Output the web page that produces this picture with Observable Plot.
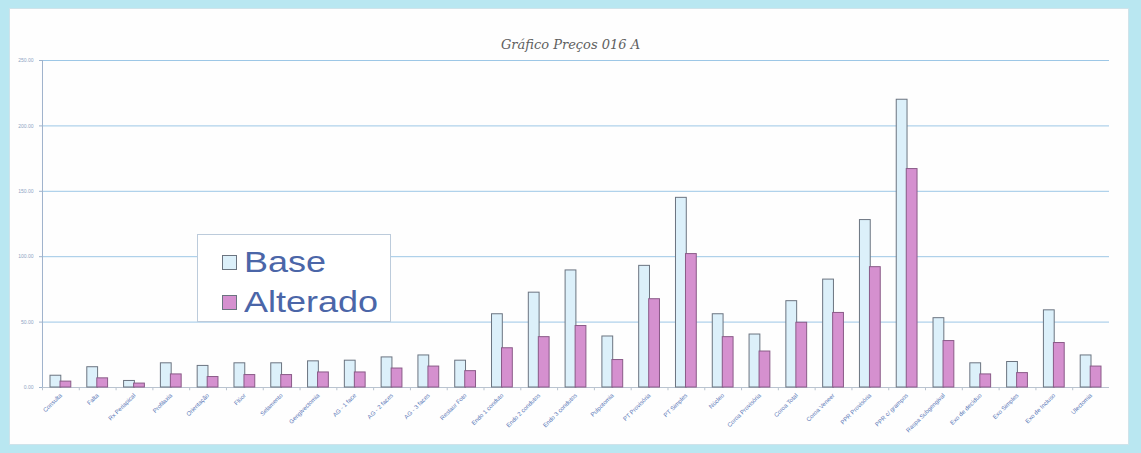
<!DOCTYPE html>
<html>
<head>
<meta charset="utf-8">
<script src="https://cdn.jsdelivr.net/npm/d3@7"></script>
<script src="https://cdn.jsdelivr.net/npm/@observablehq/plot@0.6"></script>
<style>
  html, body { margin: 0; padding: 0; }
  #wrap { position: relative; width: 1141px; height: 453px; background: #b9e7f1; overflow: hidden; }
  #panel { position: absolute; left: 9px; top: 8px; width: 1120px; height: 437px; background: #fefefe; border: 1px solid #cfe3ea; box-sizing: border-box; }
  #title { position: absolute; left: 0; width: 1141px; top: 37px; text-align: center; font-family: "DejaVu Serif", serif; font-style: italic; font-size: 13px; color: #606060; }
  #chart { position: absolute; left: 0; top: 50px; }
  #legend { position: absolute; left: 197px; top: 234px; width: 194px; height: 88px; background: #fff; border: 1px solid #bccbdb; box-sizing: border-box; font-family: "Liberation Sans", Arial, sans-serif; font-size: 30px; line-height: 30px; color: #4b66a8; }
  .item { position: absolute; left: 24px; display: flex; align-items: center; }
  .item span { display: inline-block; transform: scaleX(1.2); transform-origin: left center; }
  .sw { width: 15px; height: 15px; border: 1px solid #6b7480; margin-right: 7px; box-sizing: border-box; }
</style>
</head>
<body>
<div id="wrap">
  <div id="panel"></div>
  <div id="title">Gráfico Preços 016 A</div>
  <div id="chart"></div>
  <div id="legend">
    <div class="item" style="top:12px"><div class="sw" style="background:#dcf0fa"></div><span>Base</span></div>
    <div class="item" style="top:52px"><div class="sw" style="background:#d590cf"></div><span>Alterado</span></div>
  </div>
</div>
<script>
const categories = ["Consulta", "Falta", "Rx Periapical", "Profilaxia", "Orientação", "Flúor", "Selamento", "Gengivectomia", "AG - 1 face", "AG - 2 faces", "AG - 3 faces", "Restaur Foto", "Endo 1 conduto", "Endo 2 condutos", "Endo 3 condutos", "Pulpotomia", "PT Provisória", "PT Simples", "Núcleo", "Coroa Provisória", "Coroa Total", "Coroa Veneer", "PPR Provisória", "PPR c/ grampos", "Raspa Subgengival", "Exo de decíduo", "Exo Simples", "Exo de Incluso", "Ulectomia"];
const baseValues = [9, 15.5, 5, 18.5, 16.5, 18.5, 18.5, 20, 20.5, 23, 24.5, 20.5, 56, 72.5, 89.5, 39, 93, 145, 56, 40.5, 66, 82.5, 128, 220, 53, 18.5, 19.5, 59, 24.5];
const alteradoValues = [4.5, 7, 3, 10, 8, 9.5, 9.5, 11.5, 11.5, 14.5, 16, 12.5, 30, 38.5, 47, 21, 67.5, 102, 38.5, 27.5, 49.5, 57, 92, 167, 35.5, 10, 11, 34, 16];
const yTicks = [0, 50, 100, 150, 200, 250];
const seriesNames = ["Base", "Alterado"];

const baseData = categories.map((c, i) => ({cat: c, series: seriesNames[0], v: baseValues[i]}));
const altData = categories.map((c, i) => ({cat: c, series: seriesNames[1], v: alteradoValues[i]}));

const chart = Plot.plot({
  width: 1141, height: 400,
  marginLeft: 42, marginRight: 32, marginTop: 10, marginBottom: 63,
  style: {background: "transparent", fontFamily: "Liberation Sans, Arial, sans-serif"},
  x: {domain: categories, padding: 0, round: false, label: null},
  y: {domain: [0, 250], label: null},
  marks: [
    Plot.gridY(yTicks, {stroke: "#9dc7e6", strokeOpacity: 1, strokeWidth: 1}),
    Plot.axisY(yTicks, {tickFormat: d3.format(".2f"), fontSize: 5, fill: "#8ea4c4", stroke: "#9fb3cc", tickSize: 3}),
    Plot.ruleX([categories[0]], {y1: 0, y2: 250, stroke: "#9fb3cc", dx: -18.4}),
    Plot.ruleY([0], {stroke: "#b9c3cf"}),
    Plot.ruleX(categories, {x: d => d, y1: 0, y2: -2.5, dx: -18.4, stroke: "#b9c3cf"}),
    Plot.barY(baseData, {x: "cat", y: "v", insetLeft: 8, insetRight: 18, fill: "#dcf0fa", stroke: "#6b7480", strokeWidth: 1}),
    Plot.barY(altData, {x: "cat", y: "v", insetLeft: 18, insetRight: 8, fill: "#d590cf", stroke: "#8a5b88", strokeWidth: 1}),
    Plot.axisX({tickRotate: -45, fontSize: 6, fill: "#5b79b8", tickSize: 0, tickPadding: 7})
  ]
});
document.getElementById("chart").appendChild(chart);
</script>
</body>
</html>
